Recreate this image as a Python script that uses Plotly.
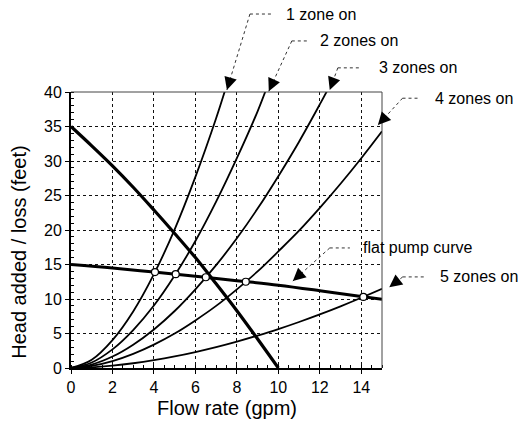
import plotly.graph_objects as go

# ---- data ----
q_zone1 = [0, 1, 2, 3, 4, 5, 6, 7, 7.5]
h_zone1 = [0, 1.2, 4.05, 8.2, 13.6, 20.1, 27.7, 36.2, 40.9]

q_zone2 = [0, 1, 2, 3, 4, 5, 6, 7, 8, 9, 9.5]
h_zone2 = [0, 0.8, 2.7, 5.5, 9.05, 13.4, 18.4, 24.1, 30.4, 37.2, 41.1]

q_zone3 = [0, 1, 2, 3, 4, 5, 6, 7, 8, 9, 10, 11, 12, 12.5]
h_zone3 = [0, 0.5, 1.66, 3.38, 5.59, 8.26, 11.4, 14.9, 18.8, 23.1, 27.8, 32.8, 38.2, 41.0]

q_zone4 = [0, 1, 2, 3, 4, 5, 6, 7, 8, 9, 10, 11, 12, 13, 14, 15]
h_zone4 = [0, 0.3, 1.0, 2.05, 3.39, 5.0, 6.9, 9.0, 11.4, 14.0, 16.9, 19.9, 23.2, 26.7, 30.4, 34.3]

q_zone5 = [0, 1, 2, 3, 4, 5, 6, 7, 8, 9, 10, 11, 12, 13, 14, 15]
h_zone5 = [0, 0.1, 0.34, 0.69, 1.14, 1.68, 2.31, 3.02, 3.82, 4.70, 5.64, 6.67, 7.77, 8.94, 10.18, 11.48]

q_steep = [0, 1, 2, 3, 4, 5, 6, 7, 8, 9, 10]
h_steep = [35, 32.2, 29.3, 26.2, 22.9, 19.5, 16.0, 12.2, 8.3, 4.2, 0]

q_flat = [0, 2, 4, 6, 8, 10, 12, 14, 15]
h_flat = [15, 14.5, 13.9, 13.3, 12.65, 12.0, 11.2, 10.35, 9.95]

q_ops = [4.05, 5.05, 6.5, 8.43, 14.1]
h_ops = [13.9, 13.6, 13.15, 12.5, 10.3]

x_ticks = [0, 2, 4, 6, 8, 10, 12, 14]
y_ticks = [0, 5, 10, 15, 20, 25, 30, 35, 40]

# labels: (text, head x/y, kink x/y, text x/y)  in data units
labels = [
    ("1 zone on", (7.52, 40.3), (8.63, 51.3), (10.25, 51.3)),
    ("2 zones on", (9.54, 40.1), (10.65, 47.4), (11.9, 47.4)),
    ("3 zones on", (12.48, 40.3), (12.87, 43.5), (14.75, 43.5)),
    ("4 zones on", (14.8, 35.2), (15.99, 39.1), (17.45, 39.0)),
    ("flat pump curve", (10.7, 12.6), (12.48, 17.4), (14.0, 17.4)),
    ("5 zones on", (15.35, 11.7), (16.0, 13.2), (17.7, 13.2)),
]
kink_ends = [9.65, 11.4, 13.95, 16.8, 13.45, 17.15]

FONT = "Liberation Sans, Arial, sans-serif"

fig = go.Figure()

for qx, hy in [(q_zone1, h_zone1), (q_zone2, h_zone2), (q_zone3, h_zone3),
               (q_zone4, h_zone4), (q_zone5, h_zone5)]:
    fig.add_trace(go.Scatter(x=qx, y=hy, mode="lines",
                             line=dict(color="black", width=1.8, shape="spline"),
                             showlegend=False, hoverinfo="skip"))

fig.add_trace(go.Scatter(x=q_steep, y=h_steep, mode="lines",
                         line=dict(color="black", width=3.2, shape="spline"),
                         showlegend=False))
fig.add_trace(go.Scatter(x=q_flat, y=h_flat, mode="lines",
                         line=dict(color="black", width=3.0, shape="spline"),
                         showlegend=False))
fig.add_trace(go.Scatter(x=q_ops, y=h_ops, mode="markers",
                         marker=dict(symbol="circle", size=7, color="white",
                                     line=dict(color="black", width=1.2)),
                         showlegend=False))

X0, X1, Y0, Y1 = 0, 15, 0, 40

def px(v):
    return (v - X0) / (X1 - X0)

def py(v):
    return (v - Y0) / (Y1 - Y0)

shapes = []
annotations = []
for (txt, head, kink, tpos), kend in zip(labels, kink_ends):
    shapes.append(dict(type="line", xref="paper", yref="paper",
                       x0=px(kink[0]), y0=py(kink[1]), x1=px(head[0]), y1=py(head[1]),
                       line=dict(color="#333", width=1, dash="dot")))
    shapes.append(dict(type="line", xref="paper", yref="paper",
                       x0=px(kink[0]), y0=py(kink[1]), x1=px(kend), y1=py(kink[1]),
                       line=dict(color="#333", width=1, dash="dot")))
    dx = kink[0] - head[0]
    dy = kink[1] - head[1]
    pxdx = dx * 20.75
    pxdy = -dy * 6.9
    n = (pxdx ** 2 + pxdy ** 2) ** 0.5
    annotations.append(dict(x=px(head[0]), y=py(head[1]), xref="paper", yref="paper",
                            ax=pxdx / n * 10, ay=pxdy / n * 10,
                            showarrow=True, arrowhead=2, arrowsize=1.5, arrowwidth=1.7,
                            arrowcolor="black", text=""))
    annotations.append(dict(x=px(tpos[0]), y=py(tpos[1]), xref="paper", yref="paper",
                            text=txt, showarrow=False, xanchor="left", yanchor="middle",
                            font=dict(family=FONT, size=16, color="black")))

annotations.append(dict(x=-0.21, y=0.42, xref="paper", yref="paper",
                        text="Head added / loss (feet)", textangle=-90, showarrow=False,
                        font=dict(family=FONT, size=20, color="black")))
annotations.append(dict(x=0.5, y=-0.145, xref="paper", yref="paper",
                        text="Flow rate (gpm)", showarrow=False, yanchor="middle",
                        font=dict(family=FONT, size=20, color="black")))

shapes.append(dict(type="line", xref="paper", yref="paper", x0=0, y0=1, x1=1, y1=1,
                   line=dict(color="#444", width=1)))
shapes.append(dict(type="line", xref="paper", yref="paper", x0=1, y0=0, x1=1, y1=1,
                   line=dict(color="#444", width=1)))

axis_common = dict(showgrid=True, gridcolor="#111", griddash="dot", gridwidth=1.2,
                   showline=True, linecolor="black", linewidth=2,
                   ticks="outside", ticklen=4, tickcolor="black",
                   tickfont=dict(family=FONT, size=16, color="black"),
                   zeroline=False, fixedrange=True)

fig.update_layout(
    width=525, height=422,
    margin=dict(l=71, r=143, t=92, b=54),
    paper_bgcolor="white", plot_bgcolor="white",
    shapes=shapes, annotations=annotations,
    font=dict(family=FONT, color="black"),
    xaxis=dict(range=[X0, X1], tickvals=x_ticks, ticktext=[str(v) for v in x_ticks],
               minor=dict(dtick=0.5, ticks="inside", ticklen=3, tickcolor="black", showgrid=False),
               **axis_common),
    yaxis=dict(range=[Y0, Y1], tickvals=y_ticks, ticktext=[str(v) for v in y_ticks],
               minor=dict(dtick=1, ticks="inside", ticklen=3, tickcolor="black", showgrid=False),
               **axis_common),
)

fig.write_html("out.html", config={"displayModeBar": False})
